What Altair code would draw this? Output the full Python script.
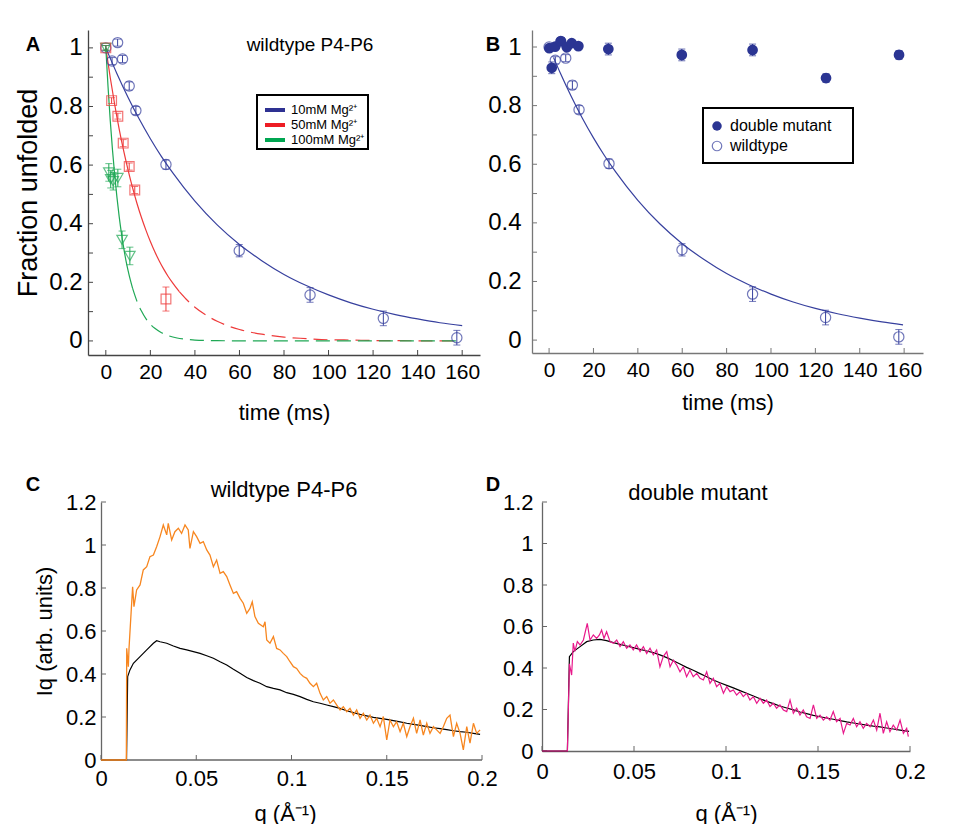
import altair as alt
import pandas as pd

FONT = "Liberation Sans"
BLUE = "#37409e"
NAVY = "#2b3593"
RED = "#ee3a3a"
GREEN = "#1fa855"
ORANGE = "#f7861f"
PINK = "#e8198b"
AXC = "#444444"
GREY = "#666666"

# ---------------- Panel A / B : kinetics ----------------
wt_t = [0, 2.8, 5.3, 7.5, 10.5, 13.5, 27, 59.9, 91.7, 124.6, 157.6]
wt_y = [1.0, 0.955, 1.018, 0.962, 0.870, 0.786, 0.602, 0.308, 0.157, 0.077, 0.011]
wt_err = [0.008, 0.012, 0.012, 0.012, 0.014, 0.014, 0.016, 0.021, 0.025, 0.025, 0.025]

mg50_t = [0, 2.6, 5.4, 7.8, 10.5, 13.0, 27.0]
mg50_y = [1.0, 0.82, 0.767, 0.675, 0.595, 0.515, 0.143]
mg50_err = [0.008, 0.01, 0.01, 0.012, 0.012, 0.012, 0.041]

mg100_t = [0, 1.35, 2.2, 3.3, 5.4, 7.3, 10.8]
mg100_y = [1.0, 0.575, 0.552, 0.545, 0.556, 0.345, 0.290]
mg100_err = [0.008, 0.03, 0.03, 0.03, 0.03, 0.03, 0.03]

wtfit_t = [0, 5, 10, 15, 20, 25, 30, 40, 50, 60, 70, 80, 90, 100, 110, 120, 130, 140, 150, 160]
wtfit_y = [1.0, 0.912, 0.831, 0.757, 0.690, 0.629, 0.574, 0.477, 0.396, 0.329, 0.274, 0.227,
           0.189, 0.157, 0.130, 0.108, 0.090, 0.075, 0.062, 0.052]

r_solid_t = [0, 2, 4, 6, 8, 10, 12, 14, 16, 18, 20, 22, 24, 26, 28, 30, 33]
r_solid_y = [1.0, 0.898, 0.806, 0.723, 0.649, 0.583, 0.523, 0.469, 0.421, 0.378, 0.339, 0.304,
             0.273, 0.245, 0.220, 0.198, 0.168]
r_dash_t = [33, 36, 40, 45, 50, 55, 60, 70, 80, 90, 100, 110, 120, 130, 140, 150, 158]
r_dash_y = [0.168, 0.143, 0.115, 0.088, 0.067, 0.051, 0.039, 0.023, 0.013, 0.008, 0.004, 0.003,
            0.0015, 0.001, 0.0005, 0.0003, 0.0002]

g_solid_t = [0, 1, 2, 3, 4, 5, 6, 7, 8, 9, 10, 11, 12]
g_solid_y = [1.0, 0.867, 0.751, 0.651, 0.565, 0.490, 0.424, 0.368, 0.319, 0.276, 0.240, 0.208, 0.180]
g_dash_t = [12, 14, 16, 18, 20, 22, 25, 28, 32, 36, 40, 50, 60, 80, 100, 120, 140, 158]
g_dash_y = [0.180, 0.135, 0.102, 0.076, 0.057, 0.043, 0.028, 0.018, 0.010, 0.006, 0.003, 0.001,
            0.0003, 0, 0, 0, 0, 0]

dm_t = [0.1, 1.2, 2.7, 5.3, 8.0, 10.2, 13.2, 26.7, 59.8, 91.7, 124.8, 157.7]
dm_y = [0.996, 0.929, 1.001, 1.02, 0.999, 1.013, 1.003, 0.993, 0.973, 0.99, 0.894, 0.973]
dm_err = [0.01, 0.02, 0.01, 0.012, 0.01, 0.01, 0.01, 0.02, 0.02, 0.02, 0.015, 0.015]

bfit_t = [2, 5, 10, 15, 20, 25, 30, 40, 50, 60, 70, 80, 90, 100, 110, 120, 130, 140, 150, 159.5]
bfit_y = [0.964, 0.912, 0.831, 0.757, 0.690, 0.629, 0.574, 0.477, 0.396, 0.329, 0.274, 0.227,
          0.189, 0.157, 0.130, 0.108, 0.090, 0.075, 0.062, 0.052]

legA_labels = ["10mM Mg²⁺", "50mM Mg²⁺", "100mM Mg²⁺"]
legA_colors = ["#2e3192", "#ed1c24", "#00a651"]
legB_labels = ["double mutant", "wildtype"]

time_ticks = [0, 20, 40, 60, 80, 100, 120, 140, 160]
frac_labels = [0, 0.2, 0.4, 0.6, 0.8, 1.0]
frac_ticks = [0, 0.1, 0.2, 0.3, 0.4, 0.5, 0.6, 0.7, 0.8, 0.9, 1.0]

# ---------------- Panel C / D : scattering profiles ----------------
c_or_q = [0, 0.0133, 0.0135, 0.01435, 0.0147, 0.0166, 0.0173, 0.0187, 0.0205, 0.0222, 0.024, 0.0257,
          0.0275, 0.0292, 0.031, 0.0327, 0.0345, 0.0353, 0.0371, 0.0388, 0.0406, 0.0423, 0.0441,
          0.0458, 0.0467, 0.0485, 0.0502, 0.052, 0.0537, 0.0555, 0.0572, 0.059, 0.0607, 0.0625,
          0.0642, 0.066, 0.0677, 0.0695, 0.0712, 0.073, 0.0747, 0.0765, 0.0782, 0.0794, 0.0808,
          0.0826, 0.0852, 0.0861, 0.087, 0.0887, 0.0905, 0.0922, 0.094, 0.0957, 0.0975, 0.0992,
          0.101, 0.1027, 0.1045, 0.1062, 0.108, 0.1097, 0.1115, 0.1132, 0.115, 0.1167, 0.1185,
          0.1202, 0.122, 0.1237, 0.1255, 0.1272, 0.129, 0.1307, 0.1325, 0.1342, 0.136, 0.1377,
          0.1395, 0.1412, 0.143, 0.1447, 0.1465, 0.1482, 0.15, 0.1517, 0.1535, 0.1552, 0.157,
          0.1587, 0.1605, 0.1622, 0.164, 0.1657, 0.1675, 0.1692, 0.171, 0.1727, 0.1745, 0.1762,
          0.178, 0.1797, 0.1815, 0.1832, 0.185, 0.1867, 0.1885, 0.1902, 0.192, 0.1937, 0.1955,
          0.1972, 0.199]
c_or_i = [0, 0, 0.52, 0.434, 0.519, 0.806, 0.713, 0.791, 0.814, 0.884, 0.899, 0.946,
          0.953, 0.992, 1.039, 1.093, 1.047, 1.101, 1.023, 1.062, 1.078, 1.054, 1.093,
          1.07, 0.984, 1.062, 1.039, 1.008, 1.016, 0.977, 0.953, 0.899, 0.93, 0.868,
          0.876, 0.853, 0.814, 0.775, 0.783, 0.752, 0.729, 0.682, 0.705, 0.736, 0.667,
          0.636, 0.62, 0.643, 0.558, 0.543, 0.574, 0.519, 0.512, 0.496, 0.481, 0.457,
          0.434, 0.426, 0.403, 0.388, 0.38, 0.357, 0.341, 0.357, 0.31, 0.279, 0.295,
          0.264, 0.279, 0.256, 0.233, 0.248, 0.225, 0.24, 0.209, 0.233, 0.194, 0.217,
          0.186, 0.209, 0.171, 0.194, 0.155, 0.202, 0.093, 0.186, 0.155, 0.178, 0.132,
          0.171, 0.109, 0.155, 0.194, 0.124, 0.186, 0.116, 0.171, 0.124, 0.155, 0.14,
          0.124, 0.155, 0.194, 0.209, 0.109, 0.171, 0.124, 0.047, 0.155, 0.078, 0.171,
          0.124, 0.14]

c_bk_q = [0, 0.0134, 0.014, 0.0152, 0.017, 0.0205, 0.024, 0.0275, 0.0292, 0.031, 0.0345, 0.038,
          0.0415, 0.045, 0.0485, 0.052, 0.0555, 0.059, 0.0625, 0.066, 0.0695, 0.073, 0.0765,
          0.08, 0.0835, 0.087, 0.0905, 0.094, 0.0975, 0.101, 0.1045, 0.108, 0.1115, 0.115,
          0.1185, 0.122, 0.1255, 0.129, 0.1325, 0.136, 0.1395, 0.143, 0.1465, 0.15, 0.1535,
          0.157, 0.1605, 0.164, 0.1675, 0.171, 0.1745, 0.178, 0.1815, 0.185, 0.1885, 0.192,
          0.1955, 0.199]
c_bk_i = [0, 0, 0.388, 0.419, 0.45, 0.481, 0.512, 0.543, 0.555, 0.55, 0.543, 0.53,
          0.519, 0.512, 0.504, 0.496, 0.485, 0.473, 0.457, 0.442, 0.422, 0.403, 0.384,
          0.369, 0.357, 0.341, 0.333, 0.326, 0.313, 0.305, 0.295, 0.282, 0.271, 0.264,
          0.256, 0.248, 0.24, 0.229, 0.22, 0.212, 0.205, 0.198, 0.194, 0.189, 0.183,
          0.177, 0.171, 0.166, 0.161, 0.155, 0.15, 0.146, 0.141, 0.136, 0.132, 0.129,
          0.124, 0.119]

d_pk_q = [0, 0.0138, 0.0149, 0.0161, 0.017, 0.0179, 0.0192, 0.0207, 0.0225, 0.0246, 0.0261,
          0.0279, 0.0297, 0.0312, 0.0324, 0.0337, 0.0351, 0.037, 0.0388, 0.0406, 0.0424, 0.0442,
          0.046, 0.0478, 0.0496, 0.0514, 0.0533, 0.0551, 0.0569, 0.0587, 0.0605, 0.0623, 0.0641,
          0.0659, 0.0678, 0.0696, 0.0714, 0.0732, 0.075, 0.0768, 0.0786, 0.0804, 0.0822, 0.0841,
          0.0859, 0.0877, 0.0895, 0.0913, 0.0931, 0.0949, 0.0967, 0.0986, 0.1004, 0.1022, 0.104,
          0.1058, 0.1076, 0.1094, 0.1112, 0.113, 0.1149, 0.1167, 0.1185, 0.1203, 0.1221, 0.1239,
          0.1257, 0.1275, 0.1293, 0.1312, 0.133, 0.1348, 0.1366, 0.1384, 0.1402, 0.142, 0.1438,
          0.1457, 0.1475, 0.1493, 0.1511, 0.1529, 0.1547, 0.1565, 0.1583, 0.1601, 0.162, 0.1638,
          0.1656, 0.1674, 0.1692, 0.171, 0.1728, 0.1746, 0.1764, 0.1783, 0.1801, 0.1819, 0.1837,
          0.1855, 0.1873, 0.1891, 0.1909, 0.1928, 0.1946, 0.1964, 0.1982, 0.1991]
d_pk_i = [0, 0, 0.42, 0.366, 0.52, 0.48, 0.527, 0.511, 0.535, 0.615, 0.535,
          0.559, 0.543, 0.559, 0.583, 0.543, 0.575, 0.527, 0.519, 0.535, 0.503, 0.527,
          0.495, 0.511, 0.487, 0.511, 0.479, 0.503, 0.47, 0.495, 0.463, 0.487, 0.406,
          0.455, 0.479, 0.406, 0.438, 0.414, 0.382, 0.406, 0.358, 0.39, 0.358, 0.374,
          0.35, 0.342, 0.382, 0.326, 0.35, 0.31, 0.326, 0.278, 0.31, 0.286, 0.294,
          0.27, 0.286, 0.262, 0.278, 0.246, 0.262, 0.23, 0.254, 0.23, 0.246, 0.214,
          0.23, 0.206, 0.222, 0.198, 0.19, 0.246, 0.182, 0.206, 0.173, 0.198, 0.165,
          0.157, 0.222, 0.157, 0.173, 0.149, 0.165, 0.149, 0.19, 0.141, 0.157, 0.085,
          0.133, 0.125, 0.157, 0.117, 0.141, 0.109, 0.133, 0.117, 0.149, 0.101, 0.182,
          0.085, 0.141, 0.093, 0.125, 0.101, 0.149, 0.085, 0.109, 0.069]

d_bk_q = [0, 0.0138, 0.0149, 0.017, 0.0207, 0.0243, 0.0279, 0.0315, 0.0351, 0.0388, 0.0424, 0.046,
          0.0496, 0.0533, 0.0569, 0.0605, 0.0641, 0.0678, 0.0714, 0.075, 0.0786, 0.0822, 0.0859,
          0.0895, 0.0931, 0.0967, 0.1004, 0.104, 0.1076, 0.1112, 0.1149, 0.1185, 0.1221, 0.1257,
          0.1293, 0.133, 0.1366, 0.1402, 0.1438, 0.1475, 0.1511, 0.1547, 0.1583, 0.162, 0.1656,
          0.1692, 0.1728, 0.1764, 0.1801, 0.1837, 0.1873, 0.1909, 0.1946, 0.1995]
d_bk_i = [0, 0, 0.455, 0.479, 0.503, 0.527, 0.535, 0.538, 0.532, 0.522, 0.514, 0.506,
          0.498, 0.49, 0.482, 0.474, 0.463, 0.45, 0.435, 0.419, 0.403, 0.389, 0.373,
          0.358, 0.342, 0.329, 0.316, 0.304, 0.291, 0.278, 0.265, 0.252, 0.239, 0.228,
          0.217, 0.207, 0.198, 0.188, 0.18, 0.172, 0.165, 0.159, 0.153, 0.146, 0.14,
          0.135, 0.13, 0.125, 0.12, 0.116, 0.111, 0.106, 0.101, 0.095]

q_ticks = [0, 0.05, 0.1, 0.15, 0.2]
iq_ticks = [0, 0.2, 0.4, 0.6, 0.8, 1.0, 1.2]


# ---------------- helpers ----------------
def D(**cols):
    return pd.DataFrame(cols)


def axis(values, fs, pad, title=None, tsize=20, tpad=0, color=AXC, **extra):
    kw = dict(values=values, format="~r", ticks=False, grid=False, labelFont=FONT,
              labelFontSize=fs, labelColor="black", labelPadding=pad, domainColor=color,
              domainWidth=1.3, labelOverlap=False, labelFlush=False)
    if title is not None:
        kw.update(title=title, titleFont=FONT, titleFontSize=tsize, titleFontWeight="normal",
                  titlePadding=tpad, titleColor="black")
    else:
        kw["title"] = None
    kw.update(extra)
    return alt.Axis(**kw)


class Panel:
    def __init__(self, xs, ys, xax, yax, H, x0=0):
        self.xs, self.ys, self.xax, self.yax, self.H, self.x0 = xs, ys, xax, yax, H, x0
        self.layers = []

    def X(self, f):
        return alt.X(f, scale=self.xs, axis=self.xax)

    def Y(self, f):
        return alt.Y(f, scale=self.ys, axis=self.yax)

    def line(self, x, y, color, width=1.2, **kw):
        self.layers.append(alt.Chart(D(x=x, y=y)).mark_line(color=color, strokeWidth=width, **kw)
                           .encode(x=self.X("x:Q"), y=self.Y("y:Q")))

    def points(self, x, y, **kw):
        self.layers.append(alt.Chart(D(x=x, y=y)).mark_point(**kw)
                           .encode(x=self.X("x:Q"), y=self.Y("y:Q")))

    def errbars(self, x, y, e, color, cap=7):
        lo = [a - b for a, b in zip(y, e)]
        hi = [a + b for a, b in zip(y, e)]
        base = alt.Chart(D(x=x, lo=lo, hi=hi))
        self.layers.append(base.mark_rule(color=color, strokeWidth=1).encode(
            x=self.X("x:Q"), y=self.Y("lo:Q"), y2="hi:Q"))
        for f in ("lo:Q", "hi:Q"):
            self.layers.append(base.mark_tick(color=color, orient="horizontal", size=cap,
                                              thickness=1).encode(x=self.X("x:Q"), y=self.Y(f)))

    def ticks(self, xvals, yvals, color, tl=5):
        self.layers.append(alt.Chart(D(v=xvals)).mark_rule(color=color, strokeWidth=1).encode(
            x=self.X("v:Q"), y=alt.value(self.H), y2=alt.value(self.H - tl)))
        self.layers.append(alt.Chart(D(v=yvals)).mark_rule(color=color, strokeWidth=1).encode(
            y=self.Y("v:Q"), x=alt.value(self.x0), x2=alt.value(self.x0 + tl)))

    def baseline(self, xa, xb, color):
        # x-axis line drawn from the first to the last tick value
        self.layers.append(alt.Chart(D(a=[xa], b=[xb], y=[0])).mark_rule(
            color=color, strokeWidth=1.3).encode(x=self.X("a:Q"), x2="b:Q", y=self.Y("y:Q")))

    def deco(self, chart):
        self.layers.append(chart)

    def anchor(self, x1, y1, x2, y2):
        # invisible diagonal rule that fixes the panel's layout bounds
        self.layers.append(alt.Chart(D(a=[0])).mark_rule(opacity=0, strokeWidth=1).encode(
            x=alt.value(x1), y=alt.value(y1), x2=alt.value(x2), y2=alt.value(y2)))

    def text(self, text, x, y, size, weight="normal", align="center"):
        self.layers.append(alt.Chart(D(t=[text])).mark_text(
            font=FONT, fontSize=size, fontWeight=weight, align=align, baseline="middle",
            color="black").encode(text="t:N", x=alt.value(x), y=alt.value(y)))


def box(x1, x2, y1, y2):
    return alt.Chart(D(a=[0])).mark_rect(fill="white", stroke="black", strokeWidth=2).encode(
        x=alt.value(x1), x2=alt.value(x2), y=alt.value(y1), y2=alt.value(y2))


# ---------------- Panel A ----------------
WA, HA = 392, 325
pA = Panel(alt.Scale(domain=[-8, 168], nice=False, zero=False),
           alt.Scale(domain=[-0.048, 1.061], nice=False, zero=False),
           axis(time_ticks, 21, 6, "time (ms)", 22, 20),
           axis(frac_labels, 24, 6, "Fraction unfolded", 27, 6), HA)
pA.anchor(-80, -22, 396, 400)
pA.ticks(time_ticks, frac_ticks, AXC)
pA.line(wtfit_t, wtfit_y, BLUE, interpolate="monotone")
pA.line(r_solid_t, r_solid_y, RED, interpolate="monotone")
pA.line(r_dash_t, r_dash_y, RED, strokeDash=[14, 7], interpolate="monotone")
pA.line(g_solid_t, g_solid_y, GREEN, interpolate="monotone")
pA.line(g_dash_t, g_dash_y, GREEN, strokeDash=[14, 7], interpolate="monotone")
pA.errbars(wt_t, wt_y, wt_err, BLUE)
pA.errbars(mg50_t, mg50_y, mg50_err, RED)
pA.errbars(mg100_t, mg100_y, mg100_err, GREEN)
pA.points(wt_t, wt_y, shape="circle", filled=False, color=BLUE, size=105, strokeWidth=1.2)
pA.points(mg100_t, mg100_y, shape="triangle-down", filled=False, color=GREEN, size=110, strokeWidth=1.2)
pA.points(mg50_t, mg50_y, shape="square", filled=False, color=RED, size=95, strokeWidth=1.2)
pA.deco(box(169, 280, 65, 119))
for i, (lab, col) in enumerate(zip(legA_labels, legA_colors)):
    yy = 80 + i * 15
    pA.deco(alt.Chart(D(a=[0])).mark_rule(color=col, strokeWidth=4).encode(
        x=alt.value(177), x2=alt.value(197), y=alt.value(yy)))
    pA.text(lab, 203, yy, 13, align="left")
pA.text("wildtype P4-P6", 222, 15, 19)
pA.text("A", -55, 15, 20, weight="bold")
chartA = alt.layer(*pA.layers).properties(width=WA, height=HA)

# ---------------- Panel B ----------------
WB, HB = 391, 323
pB = Panel(alt.Scale(domain=[-7.7, 168.5], nice=False, zero=False),
           alt.Scale(domain=[-0.044, 1.058], nice=False, zero=False),
           axis(time_ticks, 21, 6, "time (ms)", 22, 12, color="#777777"),
           axis(frac_labels, 24, 11, None, color="#777777"), HB)
pB.anchor(-48, -22, 0, 0)
pB.ticks(time_ticks, frac_ticks, "#777777")
pB.line(bfit_t, bfit_y, BLUE, interpolate="monotone")
pB.errbars(wt_t, wt_y, wt_err, BLUE)
pB.errbars(dm_t, dm_y, dm_err, NAVY)
pB.points(wt_t, wt_y, shape="circle", filled=False, color=BLUE, size=105, strokeWidth=1.2)
pB.points(dm_t, dm_y, shape="circle", filled=True, color=NAVY, size=115, opacity=1)
pB.deco(box(171, 321, 78, 133))
pB.deco(alt.Chart(D(a=[0])).mark_point(shape="circle", filled=True, color=NAVY, size=90, opacity=1)
        .encode(x=alt.value(185), y=alt.value(96)))
pB.deco(alt.Chart(D(a=[0])).mark_point(shape="circle", filled=False, color=BLUE, size=90, strokeWidth=1.2)
        .encode(x=alt.value(185), y=alt.value(116)))
pB.text(legB_labels[0], 198, 96, 16, align="left")
pB.text(legB_labels[1], 198, 116, 16, align="left")
pB.text("B", -39, 15, 20, weight="bold")
chartB = alt.layer(*pB.layers).properties(width=WB, height=HB)

# ---------------- Panel C ----------------
# the view starts 13 px left of q = 0 so that panel C sits indented under panel A
SH = 13
WC, HC = 381 + SH, 258
pC = Panel(alt.Scale(domain=[-0.2 * SH / 381, 0.2], nice=False, zero=False),
           alt.Scale(domain=[0, 1.2], nice=False, zero=False),
           axis(q_ticks, 22, 8, "q (Å⁻¹)", 22, 14, color=GREY, domain=False),
           axis(iq_ticks, 22, 5, "Iq (arb. units)", 22, 9, color=GREY, offset=-SH), HC, x0=SH)
pC.anchor(-80, -32, 400 + SH, 0)
pC.baseline(0, 0.2, GREY)
pC.ticks(q_ticks, iq_ticks, GREY)
pC.line(c_bk_q, c_bk_i, "black", width=1.2)
pC.line(c_or_q, c_or_i, ORANGE, width=1.3)
pC.text("wildtype P4-P6", 183 + SH, -12, 22)
pC.text("C", -68 + SH, -17, 20, weight="bold")
pC.text("D", 392 + SH, -17, 20, weight="bold")
chartC = alt.layer(*pC.layers).properties(width=WC, height=HC)

# ---------------- Panel D ----------------
WD, HD = 368, 249
pD = Panel(alt.Scale(domain=[0, 0.2], nice=False, zero=False),
           alt.Scale(domain=[0, 1.2], nice=False, zero=False),
           axis(q_ticks, 22, 10, "q (Å⁻¹)", 22, 21, color=GREY),
           axis(iq_ticks, 22, 9, None, color=GREY), HD)
pD.anchor(-41, -32, 0, 0)
pD.ticks(q_ticks, iq_ticks, GREY)
pD.line(d_bk_q, d_bk_i, "black", width=1.2)
pD.line(d_pk_q, d_pk_i, PINK, width=1.2)
pD.text("double mutant", 156, -9, 22)
chartD = alt.layer(*pD.layers).properties(width=WD, height=HD)

top = alt.hconcat(chartA, chartB, spacing=0).resolve_scale(x="independent", y="independent")
bottom = alt.hconcat(chartC, chartD, spacing=0).resolve_scale(x="independent", y="independent")

chart = alt.vconcat(top, bottom, spacing=40).resolve_scale(
    x="independent", y="independent"
).configure_view(stroke=None).properties(
    padding={"left": 0, "top": 0, "right": 0, "bottom": 0}
)

chart.save("out.html", embed_options={"renderer": "svg", "actions": False})
